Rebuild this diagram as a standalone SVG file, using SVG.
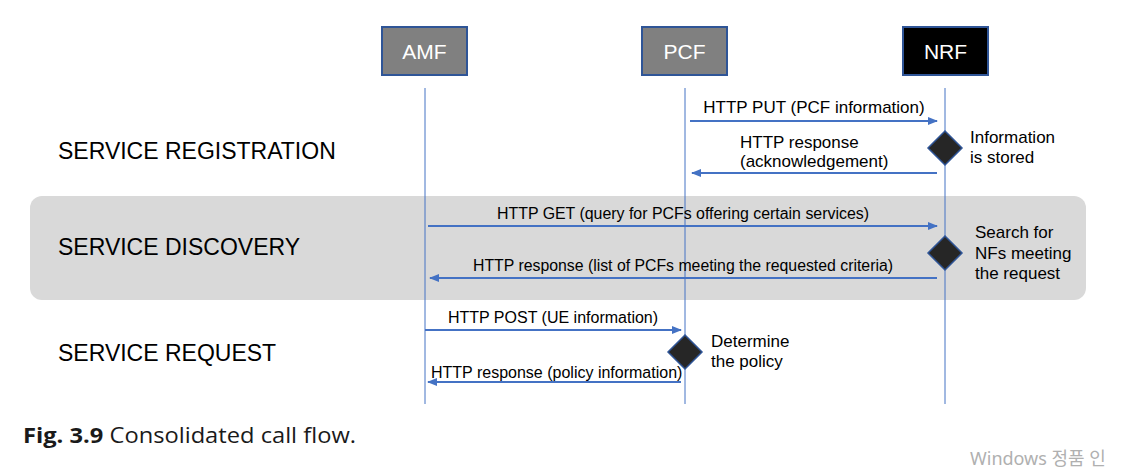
<svg xmlns="http://www.w3.org/2000/svg" width="1124" height="471" viewBox="0 0 1124 471">
<style>
.box{stroke:#2F5597;stroke-width:2}
.lbl{font-family:"Liberation Sans",Arial,sans-serif;fill:#fff;font-size:21px;text-anchor:middle}
.life{stroke:#4472C4;stroke-width:1}
.msg{stroke:#4472C4;stroke-width:2;fill:none}
.t{font-family:"Liberation Sans",Arial,sans-serif;font-size:16px;fill:#000}
.t17{font-family:"Liberation Sans",Arial,sans-serif;font-size:17px;fill:#000}
.sec{font-family:"Liberation Sans",Arial,sans-serif;font-size:23px;fill:#000}
.dia{fill:#262626;stroke:#2F5597;stroke-width:1.5}
</style>
<defs>
<marker id="ah" markerWidth="10" markerHeight="8" refX="9" refY="4" orient="auto" markerUnits="userSpaceOnUse">
<path d="M0,0 L10,4 L0,8 z" fill="#4472C4"/>
</marker>
</defs>
<rect width="1124" height="471" fill="#fff"/>
<rect x="30" y="196" width="1056" height="104" rx="12" fill="#D9D9D9"/>
<g id="lifelines">
<line class="life" x1="425" y1="88" x2="425" y2="404"/>
<line class="life" x1="685" y1="88" x2="685" y2="404"/>
<line class="life" x1="945" y1="88" x2="945" y2="404"/>
</g>
<g id="AMF"><rect class="box" x="382" y="27" width="85" height="48" fill="#808080"/><text class="lbl" x="424.5" y="59">AMF</text></g>
<g id="PCF"><rect class="box" x="642" y="27" width="85" height="48" fill="#808080"/><text class="lbl" x="684.5" y="59">PCF</text></g>
<g id="NRF"><rect class="box" x="903" y="27" width="85" height="48" fill="#000"/><text class="lbl" x="945.5" y="59">NRF</text></g>
<g id="connectors">
<line class="msg" x1="690" y1="121" x2="937" y2="121" marker-end="url(#ah)"/>
<line class="msg" x1="937" y1="173" x2="692" y2="173" marker-end="url(#ah)"/>
<line class="msg" x1="428" y1="226" x2="937" y2="226" marker-end="url(#ah)"/>
<line class="msg" x1="937" y1="278" x2="430" y2="278" marker-end="url(#ah)"/>
<line class="msg" x1="425" y1="330" x2="681" y2="330" marker-end="url(#ah)"/>
<line class="msg" x1="681" y1="382" x2="428" y2="382" marker-end="url(#ah)"/>
</g>
<g id="labels">
<text class="t17" x="814" y="113" text-anchor="middle">HTTP PUT (PCF information)</text>
<text class="t17" x="740" y="148">HTTP response</text>
<text class="t17" x="740" y="167">(acknowledgement)</text>
<text class="t" x="497" y="219" textLength="372" lengthAdjust="spacingAndGlyphs">HTTP GET (query for PCFs offering certain services)</text>
<text class="t" x="473" y="271" textLength="420" lengthAdjust="spacingAndGlyphs">HTTP response (list of PCFs meeting the requested criteria)</text>
<text class="t" x="553" y="323" text-anchor="middle">HTTP POST (UE information)</text>
<text class="t" x="431" y="378">HTTP response (policy information)</text>
</g>
<g id="d1"><polygon class="dia" points="945,131 962,148 945,165 928,148"/><text class="t17" x="970" y="143">Information</text><text class="t17" x="970" y="163">is stored</text></g>
<g id="d2"><polygon class="dia" points="945,236 962,253 945,270 928,253"/><text class="t17" x="975" y="238">Search for</text><text class="t17" x="975" y="259">NFs meeting</text><text class="t17" x="975" y="279">the request</text></g>
<g id="d3"><polygon class="dia" points="685,335 702,352 685,369 668,352"/><text class="t17" x="711" y="347">Determine</text><text class="t17" x="711" y="367">the policy</text></g>
<g id="sections">
<text class="sec" x="58" y="159">SERVICE REGISTRATION</text>
<text class="sec" x="58" y="255">SERVICE DISCOVERY</text>
<text class="sec" x="58" y="361">SERVICE REQUEST</text>
</g>
<text x="23" y="443" font-family="'Open Sans','Noto Sans',sans-serif" font-size="22" fill="#1a1a1a" textLength="333" lengthAdjust="spacingAndGlyphs"><tspan font-weight="bold">Fig. 3.9</tspan>  Consolidated call flow.</text>
<text x="970" y="465" font-family="'Noto Sans','Noto Sans CJK KR',sans-serif" font-size="18" fill="#b0b0b0">Windows 정품 인</text>
</svg>
